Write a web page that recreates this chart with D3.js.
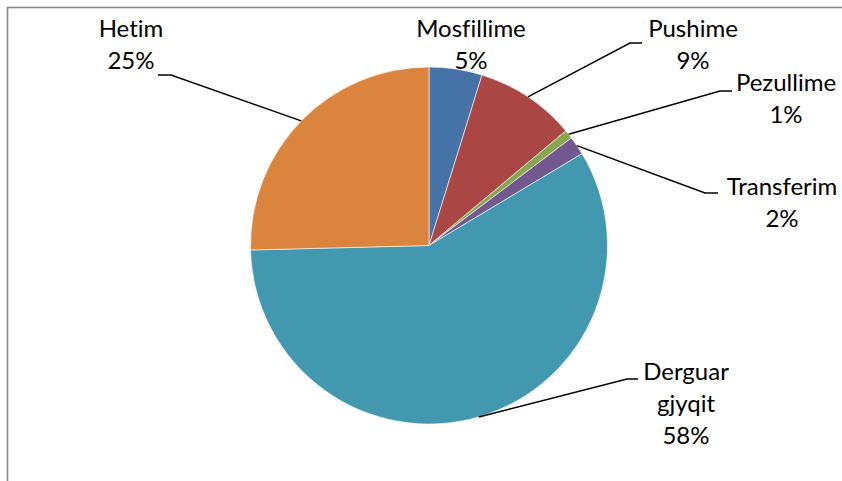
<!DOCTYPE html>
<html>
<head>
<meta charset="utf-8">
<script src="https://cdn.jsdelivr.net/npm/d3@7"></script>
<style>
  html, body { margin: 0; padding: 0; background: #fff; }
  svg { display: block; }
  text { font-variant-ligatures: none; font-feature-settings: "liga" 0; }
</style>
</head>
<body>
<svg id="chart" width="842" height="481"></svg>
<script>
// ---- data ----
const categories = ["Mosfillime", "Pushime", "Pezullime", "Transferim", "Derguar gjyqit", "Hetim"];
const values = [4.8, 9.1, 0.8, 1.7, 58.2, 25.4];
const percentLabels = ["5%", "9%", "1%", "2%", "58%", "25%"];
const labelLines = [["Mosfillime"], ["Pushime"], ["Pezullime"], ["Transferim"], ["Derguar", "gjyqit"], ["Hetim"]];

// ---- style / layout ----
const colors = ["#4572A7", "#AA4643", "#89A54E", "#71588F", "#4198AF", "#DB843D"];
const W = 842, H = 481;
const cx = 429, cy = 245.5, R = 178.5;
const fontFamily = "Lato, 'Open Sans', sans-serif";
const fontSize = 24;
const lineGap = 32;
// label layout: text center x, first baseline y, leader elbow (null = no leader)
const labelLayout = [
  { x: 471, y: 37, elbow: null },
  { x: 693, y: 37, elbow: [[642, 43], [630, 43]] },
  { x: 786, y: 91, elbow: [[732, 91], [720, 91]] },
  { x: 782, y: 195, elbow: [[718, 193], [705, 193]] },
  { x: 686, y: 380, elbow: [[638, 379], [627, 379]] },
  { x: 131, y: 37, elbow: [[158, 75], [171, 75]] }
];

const svg = d3.select("#chart");

// frame
svg.append("rect")
  .attr("x", 7.5).attr("y", 7.5)
  .attr("width", W + 20).attr("height", H + 20)
  .attr("fill", "#fff")
  .attr("stroke", "#878787")
  .attr("stroke-width", 1.6);

const data = categories.map((c, i) => ({ name: c, value: values[i], i }));
const pie = d3.pie().value(d => d.value).sort(null).startAngle(0).endAngle(2 * Math.PI);
const arcs = pie(data);
const arc = d3.arc().innerRadius(0).outerRadius(R);

const g = svg.append("g").attr("transform", `translate(${cx},${cy})`);
g.selectAll("path.slice")
  .data(arcs)
  .enter().append("path")
  .attr("class", "slice")
  .attr("d", arc)
  .attr("fill", d => colors[d.data.i])
  .attr("stroke", "#ffffff")
  .attr("stroke-width", 0.6);

// leader lines
arcs.forEach(d => {
  const lay = labelLayout[d.data.i];
  if (!lay.elbow) return;
  const mid = (d.startAngle + d.endAngle) / 2;
  const px = cx + Math.sin(mid) * R;
  const py = cy - Math.cos(mid) * R;
  const pts = [[px, py], lay.elbow[1], lay.elbow[0]];
  svg.append("path")
    .attr("d", d3.line()(pts))
    .attr("fill", "none")
    .attr("stroke", "#000")
    .attr("stroke-width", 1.5);
});

// labels
arcs.forEach(d => {
  const i = d.data.i;
  const lay = labelLayout[i];
  const lines = labelLines[i].concat([percentLabels[i]]);
  const t = svg.append("text")
    .attr("text-anchor", "middle")
    .attr("font-family", fontFamily)
    .attr("font-size", fontSize)
    .attr("fill", "#000");
  lines.forEach((ln, k) => {
    t.append("tspan").attr("x", lay.x).attr("y", lay.y + k * lineGap).text(ln);
  });
});
</script>
</body>
</html>
